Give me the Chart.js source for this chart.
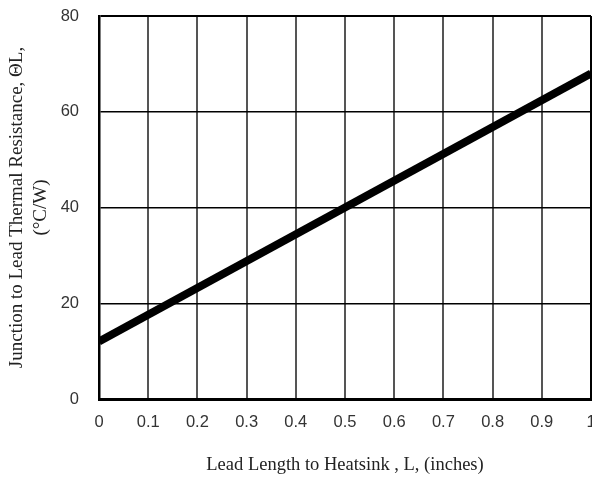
<!DOCTYPE html>
<html>
<head>
<meta charset="utf-8">
<script src="https://cdn.jsdelivr.net/npm/chart.js@4"></script>
<style>
  html, body { margin: 0; padding: 0; background: #fff; overflow: hidden; }
  #wrap { position: relative; width: 592px; height: 479px; }
</style>
</head>
<body>
<div id="wrap"><canvas id="leadChart"></canvas></div>
<script>
// lead length (inches) vs junction-to-lead thermal resistance (°C/W)
const leadLength = [0, 1];
const thermalRes = [12, 68];
const xTicks = [0, 0.1, 0.2, 0.3, 0.4, 0.5, 0.6, 0.7, 0.8, 0.9, 1];
const yTicks = [0, 20, 40, 60, 80];

const ctx = document.getElementById('leadChart').getContext('2d');

new Chart(ctx, {
  type: 'line',
  data: {
    datasets: [{
      data: leadLength.map((x, i) => ({ x: x, y: thermalRes[i] })),
      borderColor: '#000',
      borderWidth: 8,
      pointRadius: 0,
      fill: false,
      tension: 0
    }]
  },
  options: {
    responsive: true,
    maintainAspectRatio: false,
    animation: false,
    layout: { padding: { top: 16, right: 1, left: 0, bottom: 0 } },
    plugins: {
      legend: { display: false },
      tooltip: { enabled: false }
    },
    scales: {
      x: {
        type: 'linear',
        min: 0,
        max: 1,
        afterBuildTicks: (s) => { s.ticks = xTicks.map(v => ({ value: v })); },
        afterFit: (s) => { s.height = 80; s.paddingLeft = 0; s.paddingRight = 0; },
        ticks: {
          color: '#333',
          font: { family: 'Liberation Sans', size: 16.5 },
          padding: 14,
          maxRotation: 0,
          callback: (v) => String(v)
        },
        grid: {
          drawTicks: false,
          color: (c) => c.tick && c.tick.value === 1 ? '#000' : '#555',
          lineWidth: (c) => c.tick && c.tick.value === 1 ? 3 : 2
        },
        border: { color: '#000', width: 3 },
        title: {
          display: true,
          text: 'Lead Length to Heatsink , L, (inches)',
          color: '#222',
          font: { family: 'Liberation Serif', size: 18.5 },
          padding: { top: 0, bottom: 3 }
        }
      },
      y: {
        min: 0,
        max: 80,
        afterBuildTicks: (s) => { s.ticks = yTicks.map(v => ({ value: v })); },
        afterFit: (s) => { s.width = 99; s.paddingTop = 0; s.paddingBottom = 0; },
        ticks: {
          color: '#333',
          font: { family: 'Liberation Sans', size: 16.5 },
          padding: 20
        },
        grid: {
          drawTicks: false,
          color: '#000',
          lineWidth: (c) => c.tick && c.tick.value === 80 ? 2 : 1.5
        },
        border: { color: '#000', width: 2.5 },
        title: {
          display: true,
          text: ['Junction to Lead Thermal Resistance, \u0398L,', '(\u00B0C/W)'],
          color: '#222',
          font: { family: 'Liberation Serif', size: 19, lineHeight: 1.26 },
          padding: { top: 5, bottom: 0 }
        }
      }
    }
  }
});
</script>
</body>
</html>
